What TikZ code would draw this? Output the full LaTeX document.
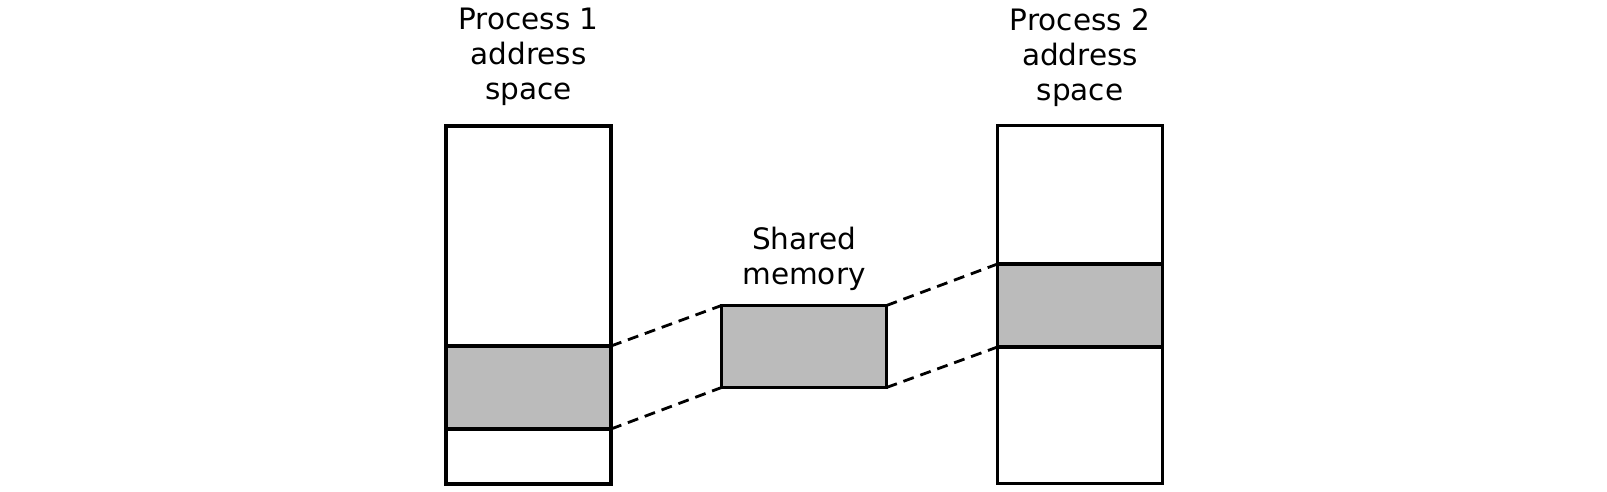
\documentclass[tikz,border=0pt]{standalone}
\usepackage{fontspec}
\setmainfont{DejaVu Sans}
\definecolor{shmem}{RGB}{187,187,187}
\begin{document}
\begin{tikzpicture}[x=1pt,y=-1pt,
  box/.style={draw=black,line width=3.2pt,inner sep=0pt,outer sep=0pt,fill=white},
  band/.style={draw=black,line width=3.2pt,inner sep=0pt,outer sep=0pt,fill=shmem},
  link/.style={draw=black,line width=2.8pt,dash pattern=on 11pt off 7pt},
  lbl/.style={align=center,inner sep=0pt,font=\fontsize{29.5}{35}\selectfont}]
\useasboundingbox (0,0) rectangle (1607,492);
% process 1
\node[box,minimum width=165pt,minimum height=358pt] (p1) at (528.5,305) {};
\node[band,minimum width=165pt,minimum height=83pt] (b1) at (528.5,387.5) {};
% process 2
\node[box,minimum width=165pt,minimum height=358pt] (p2) at (1080,304.5) {};
\node[band,minimum width=165pt,minimum height=83pt] (b2) at (1080,305.5) {};
% shared
\node[band,minimum width=165pt,minimum height=82pt] (sm) at (804,346.5) {};
% labels
\node[lbl,anchor=north] (t1) at (528.5,8) {Process 1\\address\\space};
\node[lbl,anchor=north] (t2) at (1080,8) {Process 2\\address\\space};
\node[lbl,anchor=north] (t3) at (804,227) {Shared\\memory};
% links
\draw[link] (b1.north east) -- (sm.north west);
\draw[link] (b1.south east) -- (sm.south west);
\draw[link] (sm.north east) -- (b2.north west);
\draw[link] (sm.south east) -- (b2.south west);
\end{tikzpicture}
\end{document}
